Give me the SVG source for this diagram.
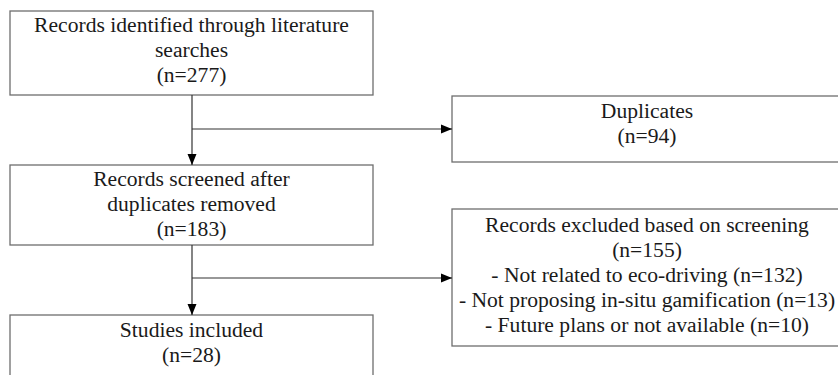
<svg xmlns="http://www.w3.org/2000/svg" width="838" height="375" viewBox="0 0 838 375">
<style>
.box{fill:#fff;stroke:#6e6e6e;stroke-width:1.3}
.c{fill:none;stroke:#333;stroke-width:1.2}
text{font-family:"Liberation Serif","Times New Roman",serif;font-size:21.6px;fill:#1a1a1a;text-anchor:middle}
</style>
<defs>
<marker id="ah" viewBox="0 0 11 10" refX="11" refY="5" markerWidth="11" markerHeight="10" markerUnits="userSpaceOnUse" orient="auto">
<path d="M0,0.5 L11,5 L0,9.5 Z" fill="#000"/>
</marker>
</defs>
<rect width="838" height="375" fill="#fff"/>
<g id="n1"><rect class="box" x="10" y="11" width="363" height="84"/>
<text x="191.5" y="32">Records identified through literature</text>
<text x="191.5" y="57">searches</text>
<text x="191.5" y="82">(n=277)</text></g>
<g id="n2"><rect class="box" x="452" y="96" width="400" height="66"/>
<text x="647" y="118">Duplicates</text>
<text x="647" y="143">(n=94)</text></g>
<g id="n3"><rect class="box" x="10" y="165" width="363" height="80"/>
<text x="191.5" y="186">Records screened after</text>
<text x="191.5" y="211">duplicates removed</text>
<text x="191.5" y="236">(n=183)</text></g>
<g id="n4"><rect class="box" x="452" y="209" width="400" height="137"/>
<text x="647" y="232">Records excluded based on screening</text>
<text x="647" y="257">(n=155)</text>
<text x="647" y="282">- Not related to eco-driving (n=132)</text>
<text x="647" y="307">- Not proposing in-situ gamification (n=13)</text>
<text x="647" y="332">- Future plans or not available (n=10)</text></g>
<g id="n5"><rect class="box" x="10" y="315" width="363" height="80"/>
<text x="191.5" y="337">Studies included</text>
<text x="191.5" y="362">(n=28)</text></g>
<g id="connectors">
<path class="c" d="M192,95 V165" marker-end="url(#ah)"/>
<path class="c" d="M192,129 H452" marker-end="url(#ah)"/>
<path class="c" d="M192,245 V315" marker-end="url(#ah)"/>
<path class="c" d="M192,278 H452" marker-end="url(#ah)"/>
</g>
</svg>
